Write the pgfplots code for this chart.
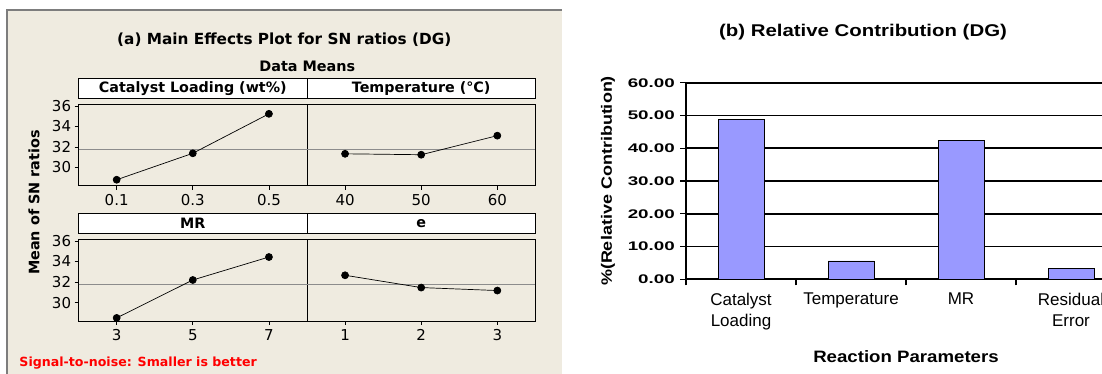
\documentclass[border=0pt]{standalone}
\usepackage{fontspec}
\usepackage{pgfplots}
\pgfplotsset{compat=1.18}
\newfontfamily\lf{DejaVu Sans}
\newfontfamily\rf{Liberation Sans}
\definecolor{beige}{RGB}{239,235,224}
\definecolor{barblue}{RGB}{153,153,255}
\definecolor{refgray}{RGB}{140,140,140}
\definecolor{boxgray}{RGB}{125,125,125}
\definecolor{sigred}{RGB}{255,0,0}
\pgfplotsset{
 mep/.style={
  scale only axis, width=228.4pt, height=81.3pt,
  anchor=south west,
  xmin=0.5, xmax=3.5, ymin=28.2, ymax=36.13,
  xtick={1,2,3}, ytick={30,32,34,36},
  tick pos=left, tick align=outside, major tick length=4pt,
  axis line style={line width=0.9pt},
  tick style={black, line width=0.8pt},
  /pgf/number format/assume math mode=true,
  ticklabel style={font=\lf\fontsize{15}{17}\selectfont},
  xticklabel style={yshift=-1pt},
  title style={at={(0.5,1)}, anchor=south, draw=black, line width=0.9pt, fill=white,
    minimum width=228.4pt, minimum height=20.4pt, inner sep=0pt, outer sep=0pt,
    font=\lf\bfseries\fontsize{14.3}{16}\selectfont},
  clip=false,
 },
 ser/.style={black, line width=0.7pt, mark=*, mark size=3.5pt, mark options={solid, fill=black}},
 refl/.style={refgray, line width=0.9pt},
}
\begin{document}
\begin{tikzpicture}
\path[use as bounding box] (0pt,0pt) rectangle (1102pt,374pt);
\clip (0pt,0pt) rectangle (1102pt,374pt);
% beige background of panel (a)
\fill[beige] (7pt,0pt) rectangle (561.7pt,364pt);
\draw[boxgray, line width=1.5pt] (7pt,0pt) -- (7pt,364pt) -- (561.7pt,364pt);

\node[font=\lf\bfseries\fontsize{15.3}{18}\selectfont] at (284.3pt,334pt) {(a) Main Effects Plot for SN ratios (DG)};
\node[font=\lf\bfseries\fontsize{14.4}{17}\selectfont] at (307.3pt,307.3pt) {Data Means};
\node[rotate=90, font=\lf\bfseries\fontsize{14.4}{17}\selectfont] at (34pt,171.5pt) {Mean of SN ratios};
\node[anchor=west, inner sep=0pt, text=sigred, font=\lf\bfseries\fontsize{12.6}{14}\selectfont] at (19.3pt,11pt) {Signal-to-noise: Smaller is better};

\begin{axis}[mep, at={(78.6pt,188.1pt)}, title={Catalyst Loading (wt\%)}, xticklabels={0.1,0.3,0.5}]
\addplot[refl] coordinates {(0.5,31.76) (3.5,31.76)};
\addplot[ser] coordinates {(1,28.80) (2,31.38) (3,35.23)};
\end{axis}
\begin{axis}[mep, at={(307pt,188.1pt)}, title={Temperature (°C)}, xticklabels={40,50,60}, ytick=\empty]
\addplot[refl] coordinates {(0.5,31.76) (3.5,31.76)};
\addplot[ser] coordinates {(1,31.33) (2,31.24) (3,33.10)};
\end{axis}
\begin{axis}[mep, at={(78.6pt,53pt)}, title={MR}, xticklabels={3,5,7}]
\addplot[refl] coordinates {(0.5,31.76) (3.5,31.76)};
\addplot[ser] coordinates {(1,28.50) (2,32.20) (3,34.44)};
\end{axis}
\begin{axis}[mep, at={(307pt,53pt)}, title={e}, xticklabels={1,2,3}, ytick=\empty]
\addplot[refl] coordinates {(0.5,31.76) (3.5,31.76)};
\addplot[ser] coordinates {(1,32.66) (2,31.46) (3,31.17)};
\end{axis}

% panel (b)
\node[font=\rf\bfseries\fontsize{17}{20}\selectfont, xscale=1.2] at (863pt,342pt) {(b) Relative Contribution (DG)};
\node[font=\rf\bfseries\fontsize{16.5}{18}\selectfont, xscale=1.13] at (906pt,17.3pt) {Reaction Parameters};
\node[rotate=90, xscale=1.2, font=\rf\bfseries\fontsize{15}{18}\selectfont] at (608pt,193pt) {\%(Relative Contribution)};

\begin{axis}[at={(686pt,94.7pt)}, anchor=south west, scale only axis, width=440pt, height=196.6pt,
 xmin=0.5, xmax=4.5, ymin=0, ymax=60,
 axis lines=left, axis line style={-, line width=1.4pt},
 ytick={0,10,20,30,40,50,60}, ymajorgrids, grid style={black, line width=1.8pt},
 tick align=outside, major tick length=6pt, tick style={black, line width=1.4pt},
 /pgf/number format/assume math mode=true,
 yticklabel={\pgfmathprintnumber[fixed, fixed zerofill, precision=2]{\tick}},
 yticklabel style={font=\rf\bfseries\fontsize{12.5}{14}\selectfont, xscale=1.5},
 xtick={0.5,1.5,2.5,3.5,4.5}, xticklabels={},
 extra x ticks={1,2,3,4},
 extra x tick labels={{Catalyst\\Loading},{Temperature},{MR},{Residual\\Error}},
 extra x tick style={major tick length=0pt, tick style={draw=none},
   xticklabel style={font=\rf\fontsize{17}{21}\selectfont, align=center, yshift=-10pt}},
 ybar, bar width=46pt,
 clip=false,
]
\addplot[fill=barblue, draw=black, line width=0.8pt] coordinates {(1,48.9) (2,5.6) (3,42.3) (4,3.2)};
\end{axis}
\end{tikzpicture}
\end{document}
